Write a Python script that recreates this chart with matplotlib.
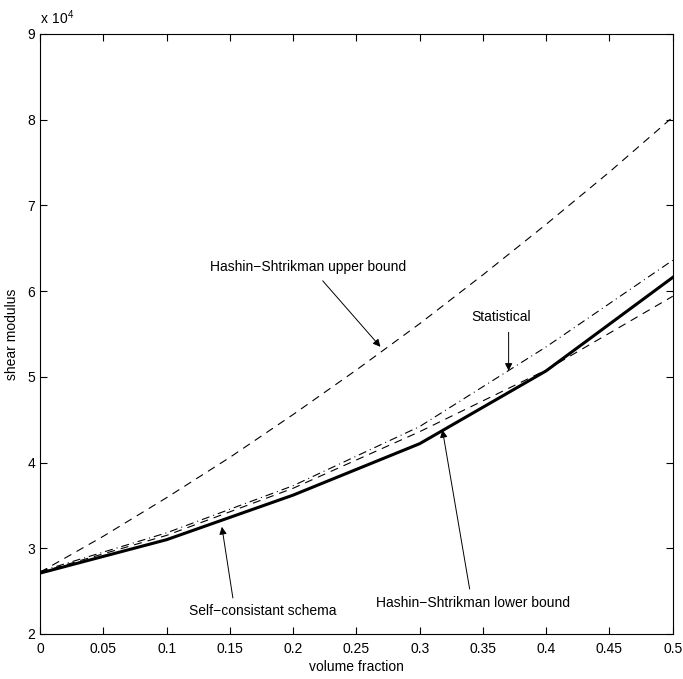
import numpy as np
import matplotlib
matplotlib.use('Agg')
import matplotlib.pyplot as plt

plt.rcParams['font.family'] = ['Liberation Sans', 'DejaVu Sans']
plt.rcParams['font.size'] = 10

# shear modulus values in units of 10^4
vf_coarse = [0.0, 0.1, 0.2, 0.3, 0.4, 0.5]
self_consistent = [2.71, 3.10, 3.62, 4.22, 5.07, 6.16]
statistical = [2.73, 3.18, 3.73, 4.42, 5.35, 6.36]
hs_lower = [2.72, 3.15, 3.70, 4.36, 5.08, 5.94]

vf_fine = [0.0, 0.05, 0.1, 0.15, 0.2, 0.25, 0.3, 0.35, 0.4, 0.45, 0.5]
hs_upper = [2.72, 3.14, 3.59, 4.06, 4.56, 5.08, 5.62, 6.19, 6.78, 7.39, 8.03]


def main():
    fig = plt.figure(figsize=(6.83, 6.79), dpi=100)
    ax = fig.add_axes([0.0586, 0.0663, 0.9264, 0.8837])

    ax.plot(vf_fine, hs_upper, color='k', lw=0.8, linestyle=(0, (7.2, 5.4)))
    ax.plot(vf_coarse, hs_lower, color='k', lw=0.8, linestyle=(0, (7.2, 5.4)))
    ax.plot(vf_coarse, statistical, color='k', lw=0.8,
            linestyle=(0, (7.2, 3.6, 0.9, 3.6)))
    ax.plot(vf_coarse, self_consistent, color='k', lw=2.2)

    ax.set_xlim(0, 0.5)
    ax.set_ylim(2, 9)
    ax.set_xticks(np.arange(0, 0.51, 0.05))
    ax.set_xticklabels(['0', '0.05', '0.1', '0.15', '0.2', '0.25', '0.3',
                        '0.35', '0.4', '0.45', '0.5'])
    ax.set_yticks(range(2, 10))
    ax.tick_params(direction='in', top=True, right=True, length=5, width=0.8)
    ax.tick_params(axis='x', pad=6)
    for s in ax.spines.values():
        s.set_linewidth(0.8)

    ax.set_xlabel('volume fraction', labelpad=3)
    ax.set_ylabel('shear modulus', labelpad=6)
    ax.text(0.0, 1.012, r'$\mathregular{x\ 10^4}$', transform=ax.transAxes,
            ha='left', va='bottom', fontsize=10)

    arrow = dict(arrowstyle='-|>', color='k', lw=0.7, mutation_scale=11,
                 shrinkA=0, shrinkB=0)
    ax.annotate('', xy=(0.269, 5.35), xytext=(0.2234, 6.12), arrowprops=arrow)
    ax.text(0.2116, 6.28, 'Hashin\u2212Shtrikman upper bound', ha='center', va='center')

    ax.annotate('', xy=(0.3703, 5.07), xytext=(0.3703, 5.52), arrowprops=arrow)
    ax.text(0.364, 5.70, 'Statistical', ha='center', va='center')

    ax.annotate('', xy=(0.318, 4.38), xytext=(0.3395, 2.525), arrowprops=arrow)
    ax.text(0.342, 2.36, 'Hashin\u2212Shtrikman lower bound', ha='center', va='center')

    ax.annotate('', xy=(0.1437, 3.25), xytext=(0.1524, 2.42), arrowprops=arrow)
    ax.text(0.176, 2.27, 'Self\u2212consistant schema', ha='center', va='center')

    fig.savefig('out.png', dpi=100)


if __name__ == "__main__":
    main()
